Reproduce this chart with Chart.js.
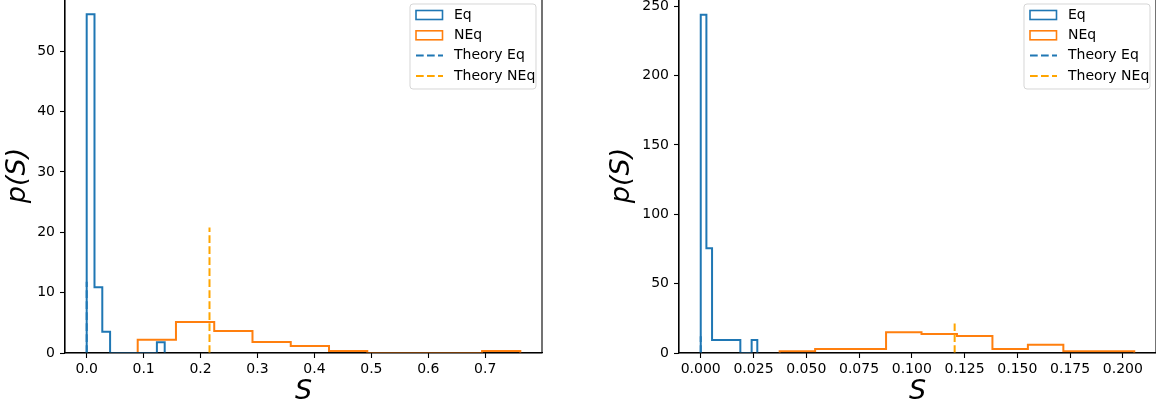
<!DOCTYPE html>
<html>
<head>
<meta charset="utf-8">
<script src="https://cdn.jsdelivr.net/npm/chart.js@4.4.1/dist/chart.umd.min.js"></script>
<style>
  html, body { margin: 0; padding: 0; background: #fff; overflow: hidden; width: 1156px; height: 410px; }
  canvas { position: absolute; top: -20px; }
  #izq { left: 0; }
  #der { left: 578px; }
</style>
</head>
<body>
<canvas id="izq" width="578" height="430"></canvas>
<canvas id="der" width="578" height="430"></canvas>
<script>
const etiquetas = ['Eq', 'NEq', 'Theory Eq', 'Theory NEq'];

// panel izquierdo
const bordesEqIzq = [0, 0.0137, 0.0274, 0.0411, 0.0548, 0.0685, 0.0822, 0.0959, 0.1096, 0.1233, 0.137];
const alturasEqIzq = [56.1, 10.9, 3.5, 0, 0, 0, 0, 0, 0, 1.77];
const bordesNEqIzq = [0.0896, 0.1568, 0.224, 0.2912, 0.3584, 0.4256, 0.4928, 0.56, 0.6272, 0.6944, 0.7616];
const alturasNEqIzq = [2.2, 5.13, 3.64, 1.82, 1.16, 0.33, 0, 0, 0, 0.33];
const teoriaIzq = { eq: 0, alturaEq: 11.8, neq: 0.2157, alturaNEq: 20.8 };
const ticksXIzq = [0, 0.1, 0.2, 0.3, 0.4, 0.5, 0.6, 0.7];
const ticksYIzq = [0, 10, 20, 30, 40, 50];

// panel derecho
const bordesEqDer = [0, 0.00268, 0.00536, 0.00804, 0.01072, 0.0134, 0.01608, 0.01876, 0.02144, 0.02412, 0.0268];
const alturasEqDer = [244, 75.5, 9.4, 9.4, 9.4, 9.4, 9.4, 0, 0, 9.4];
const bordesNEqDer = [0.0374, 0.0542, 0.071, 0.0878, 0.1046, 0.1214, 0.1382, 0.155, 0.1718, 0.1886, 0.2054];
const alturasNEqDer = [1.2, 2.9, 2.9, 14.9, 13.7, 12.3, 2.9, 6.0, 1.2, 1.2];
const teoriaDer = { eq: 0, alturaEq: 12, neq: 0.1203, alturaNEq: 21.2 };
const ticksXDer = [0, 0.025, 0.05, 0.075, 0.1, 0.125, 0.15, 0.175, 0.2];
const ticksYDer = [0, 50, 100, 150, 200, 250];

const AZUL = '#1f77b4';
const NARANJA = '#ff7f0e';
const FUENTE = 'DejaVu Sans';

Chart.defaults.font.family = FUENTE;
Chart.defaults.color = '#000';

// contorno del histograma: sube en el primer borde, baja en el ultimo
function puntosEscalon(bordes, alturas) {
  const puntos = [{ x: bordes[0], y: 0 }];
  alturas.forEach((h, i) => puntos.push({ x: bordes[i], y: h }));
  puntos.push({ x: bordes[bordes.length - 1], y: alturas[alturas.length - 1] });
  puntos.push({ x: bordes[bordes.length - 1], y: 0 });
  return puntos;
}

function crearDatasets(bEq, hEq, bNEq, hNEq, teoria) {
  const base = { fill: false, pointRadius: 0, borderWidth: 2, tension: 0 };
  return [
    { ...base, label: etiquetas[0], tipo: 'hist', data: puntosEscalon(bEq, hEq), borderColor: AZUL, stepped: 'before', order: 2 },
    { ...base, label: etiquetas[1], tipo: 'hist', data: puntosEscalon(bNEq, hNEq), borderColor: NARANJA, stepped: 'before', order: 2 },
    { ...base, label: etiquetas[2], tipo: 'linea', data: [{ x: teoria.eq, y: 0 }, { x: teoria.eq, y: teoria.alturaEq }], borderColor: AZUL, borderDash: [7.7, 3.3], order: 1 },
    { ...base, label: etiquetas[3], tipo: 'linea', data: [{ x: teoria.neq, y: 0 }, { x: teoria.neq, y: teoria.alturaNEq }], borderColor: 'orange', borderDash: [7.7, 3.3], order: 1 }
  ];
}

// marco completo alrededor del area de dibujo
const marco = {
  id: 'marco',
  afterDatasetsDraw(chart) {
    const { ctx, chartArea } = chart;
    ctx.save();
    ctx.strokeStyle = '#000';
    ctx.lineWidth = 1.1;
    ctx.strokeRect(chartArea.left, chartArea.top, chartArea.right - chartArea.left, chartArea.bottom - chartArea.top);
    ctx.restore();
  }
};

// leyenda dentro del grafico, arriba a la derecha
const leyendaInterna = {
  id: 'leyendaInterna',
  afterDraw(chart) {
    const { ctx, chartArea } = chart;
    const w = 126, h = 85;
    const x0 = chartArea.right - 6 - w;
    const y0 = chartArea.top + 6;
    ctx.save();
    ctx.beginPath();
    ctx.roundRect(x0, y0, w, h, 3);
    ctx.fillStyle = 'rgba(255,255,255,0.8)';
    ctx.fill();
    ctx.strokeStyle = 'rgba(204,204,204,0.8)';
    ctx.lineWidth = 1;
    ctx.stroke();
    chart.data.datasets.forEach((ds, i) => {
      const yc = y0 + 11 + i * 20.3;
      ctx.strokeStyle = ds.borderColor;
      ctx.lineWidth = ds.tipo === 'hist' ? 1.6 : 2;
      if (ds.tipo === 'hist') {
        ctx.setLineDash([]);
        ctx.strokeRect(x0 + 6, yc - 4.5, 26.5, 9);
      } else {
        ctx.setLineDash(ds.borderDash);
        ctx.beginPath();
        ctx.moveTo(x0 + 6, yc);
        ctx.lineTo(x0 + 33, yc);
        ctx.stroke();
      }
      ctx.setLineDash([]);
      ctx.fillStyle = '#000';
      ctx.font = '14px ' + FUENTE;
      ctx.textBaseline = 'middle';
      ctx.textAlign = 'left';
      ctx.fillText(ds.label, x0 + 44, yc);
    });
    ctx.restore();
  }
};

function crearGrafica(id, datasets, cfg) {
  const ctx = document.getElementById(id).getContext('2d');
  return new Chart(ctx, {
    type: 'line',
    data: { datasets },
    options: {
      responsive: false,
      animation: false,
      layout: { padding: { left: 0, right: cfg.padDer, top: 18, bottom: 0 } },
      plugins: { legend: { display: false }, tooltip: { enabled: false } },
      scales: {
        x: {
          type: 'linear',
          min: cfg.xMin,
          max: cfg.xMax,
          afterFit: s => { s.height = 57; },
          afterBuildTicks: s => { s.ticks = cfg.ticksX.map(v => ({ value: v })); },
          ticks: {
            callback: v => Number(v).toFixed(cfg.decimales),
            font: { size: 14 },
            color: '#000',
            padding: 3,
            maxRotation: 0,
            autoSkip: false
          },
          grid: { drawOnChartArea: false, drawTicks: true, tickLength: 5, tickColor: '#000', tickWidth: 1.1 },
          border: { color: '#000', width: 1.1 },
          title: { display: true, text: 'S', color: '#000', font: { size: 27, style: 'italic' }, padding: { top: 0, bottom: 2 } }
        },
        y: {
          type: 'linear',
          min: 0,
          max: cfg.yMax,
          afterFit: s => { s.width = cfg.anchoY; },
          afterBuildTicks: s => { s.ticks = cfg.ticksY.map(v => ({ value: v })); },
          ticks: { font: { size: 14 }, color: '#000', padding: 5, autoSkip: false },
          grid: { drawOnChartArea: false, drawTicks: true, tickLength: 5, tickColor: '#000', tickWidth: 1.1 },
          border: { color: '#000', width: 1.1 },
          title: { display: true, text: 'p(S)', color: '#000', font: { size: 27, style: 'italic' }, padding: { top: cfg.padTituloY, bottom: 0 } }
        }
      }
    },
    plugins: [marco, leyendaInterna]
  });
}

crearGrafica('izq', crearDatasets(bordesEqIzq, alturasEqIzq, bordesNEqIzq, alturasNEqIzq, teoriaIzq), {
  xMin: -0.0381, xMax: 0.7997, yMax: 58.8,
  ticksX: ticksXIzq, ticksY: ticksYIzq, decimales: 1,
  anchoY: 65, padDer: 36, padTituloY: 2
});

crearGrafica('der', crearDatasets(bordesEqDer, alturasEqDer, bordesNEqDer, alturasNEqDer, teoriaDer), {
  xMin: -0.0103, xMax: 0.2157, yMax: 256,
  ticksX: ticksXDer, ticksY: ticksYDer, decimales: 3,
  anchoY: 101, padDer: 0, padTituloY: 28
});
</script>
</body>
</html>
